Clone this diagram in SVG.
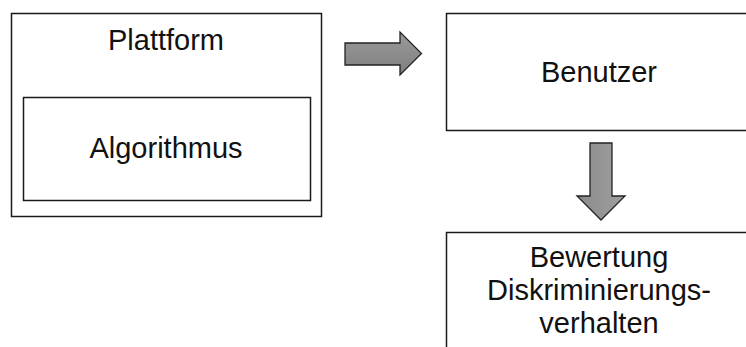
<svg xmlns="http://www.w3.org/2000/svg" width="746" height="347" viewBox="0 0 746 347">
<defs>
<linearGradient id="gh" x1="0" y1="0" x2="0" y2="1"><stop offset="0" stop-color="#9a9a9a"/><stop offset="1" stop-color="#7f7f7f"/></linearGradient>
<linearGradient id="gv" x1="0" y1="0" x2="1" y2="0"><stop offset="0" stop-color="#8a8a8a"/><stop offset="1" stop-color="#a0a0a0"/></linearGradient>
</defs>
<style>
.box{fill:#fff;stroke:#1a1a1a;stroke-width:1.5}
.t{font-family:"Liberation Sans",Arial,sans-serif;font-size:29px;fill:#111;text-anchor:middle}
.arr{stroke:#222;stroke-width:1.3;stroke-linejoin:miter}
</style>
<rect width="746" height="347" fill="#fff"/>
<g id="plattform">
<rect class="box" x="11.5" y="13.5" width="310" height="203"/>
<text class="t" x="166" y="50">Plattform</text>
</g>
<g id="algorithmus">
<rect class="box" x="23.5" y="97.5" width="287" height="103"/>
<text class="t" x="166" y="158">Algorithmus</text>
</g>
<g id="benutzer">
<rect class="box" x="446.5" y="13.5" width="310" height="117"/>
<text class="t" x="599" y="82">Benutzer</text>
</g>
<g id="bewertung">
<rect class="box" x="446.5" y="232.5" width="310" height="130"/>
<text class="t" x="599" y="267">Bewertung</text>
<text class="t" x="599" y="300">Diskriminierungs-</text>
<text class="t" x="599" y="333">verhalten</text>
</g>
<g id="connectors">
<path class="arr" fill="url(#gh)" d="M345,43 H400 V32 L421.5,53.5 L400,75 V65 H345 Z"/>
<path class="arr" fill="url(#gv)" d="M590,143 H612 V196 H625 L601,220 L577,196 H590 Z"/>
</g>
</svg>
